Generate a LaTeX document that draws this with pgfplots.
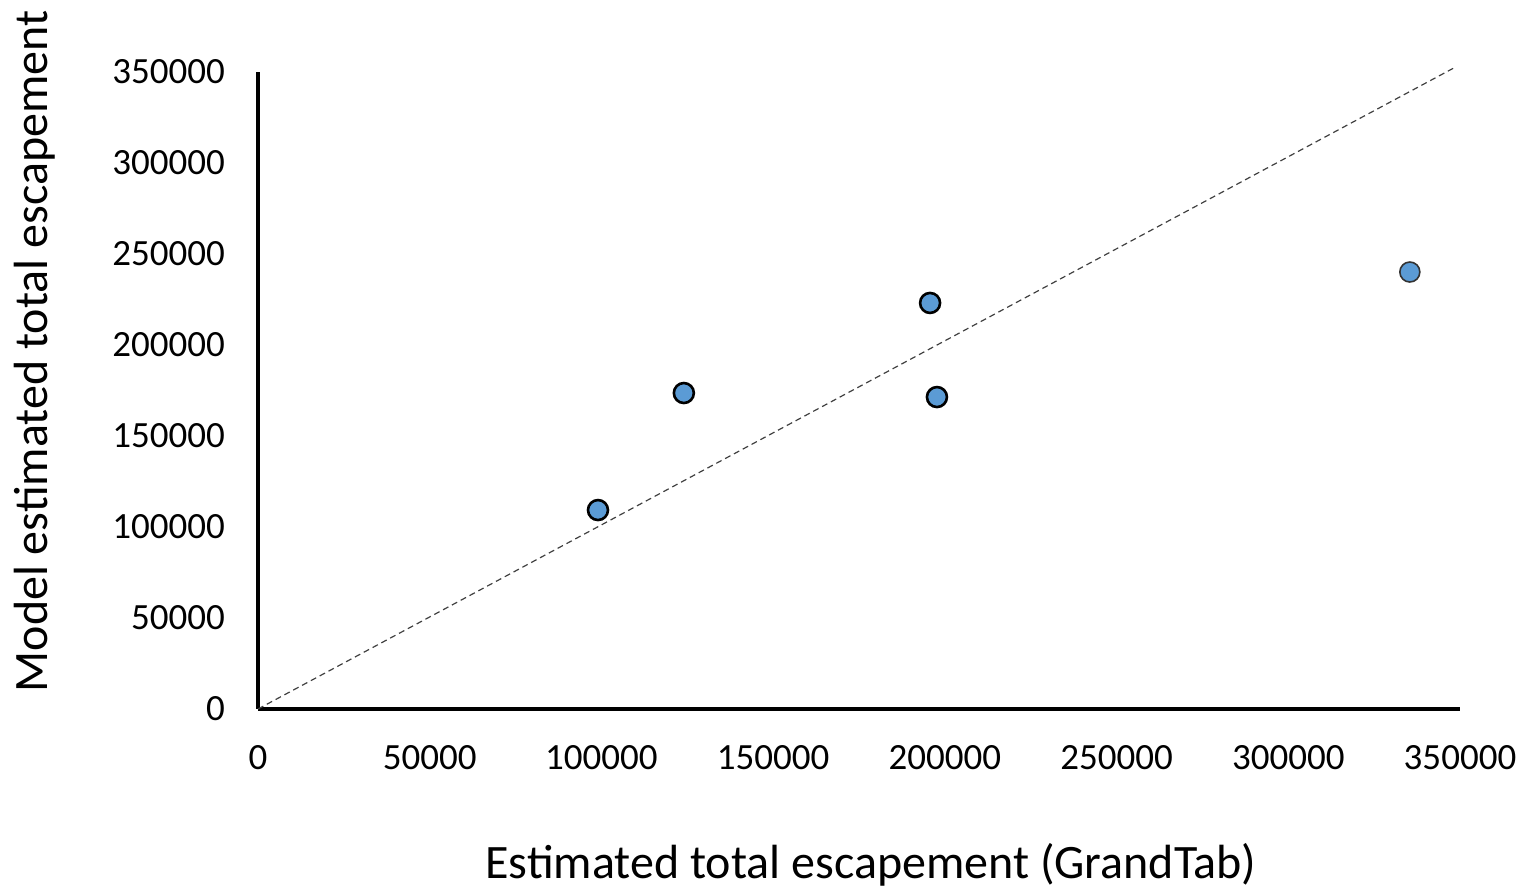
\documentclass[border=0pt]{standalone}
\usepackage{fontspec}
\setmainfont{Carlito}
\usepackage{pgfplots}
\pgfplotsset{compat=1.18}
\definecolor{ptblue}{HTML}{5B9BD5}
\begin{document}
\begin{tikzpicture}
\useasboundingbox (-129pt,-91.5pt) rectangle (635pt,354.5pt);
\begin{axis}[
  at={(0,0)}, anchor=south west,
  scale only axis, width=601pt, height=318.5pt,
  xmin=0, xmax=350000, ymin=0, ymax=350000,
  axis x line=bottom, axis y line=left,
  axis line style={-, line width=2pt, black},
  xtick={0,50000,...,350000}, ytick={0,50000,...,350000},
  major tick length=0pt,
  scaled ticks=false,
  /pgf/number format/fixed,
  /pgf/number format/precision=0,
  /pgf/number format/1000 sep={},
  /pgf/number format/assume math mode=true,
  tick label style={font=\fontsize{18.5pt}{22pt}\selectfont},
  xticklabel style={yshift=-14.5pt},
  yticklabel style={xshift=-13pt},
  clip=false,
  every axis x label/.style={at={(axis description cs:0.5,0)}, xshift=6pt, yshift=-78pt, anchor=center},
  every axis y label/.style={at={(axis description cs:0,0.5)}, xshift=-111.5pt, yshift=19.5pt, anchor=center, rotate=90},
  label style={font=\fontsize{24pt}{28pt}\selectfont},
  xlabel={Estimated total escapement (GrandTab)},
  ylabel={Model estimated total escapement},
]
\addplot[black!75, line width=0.6pt, dash pattern=on 3pt off 2pt] coordinates {(0,0) (348000,352000)};
\addplot[only marks, mark=*, mark size=5pt, mark options={fill=ptblue, draw=black, line width=1.3pt}] coordinates {
(99000,109300) (124000,173600) (195700,223100) (197700,171400)};
\addplot[only marks, mark=*, mark size=5pt, mark options={fill=ptblue, draw=black!80, line width=0.8pt}] coordinates {
(335400,240100)};
\end{axis}
\end{tikzpicture}
\end{document}
